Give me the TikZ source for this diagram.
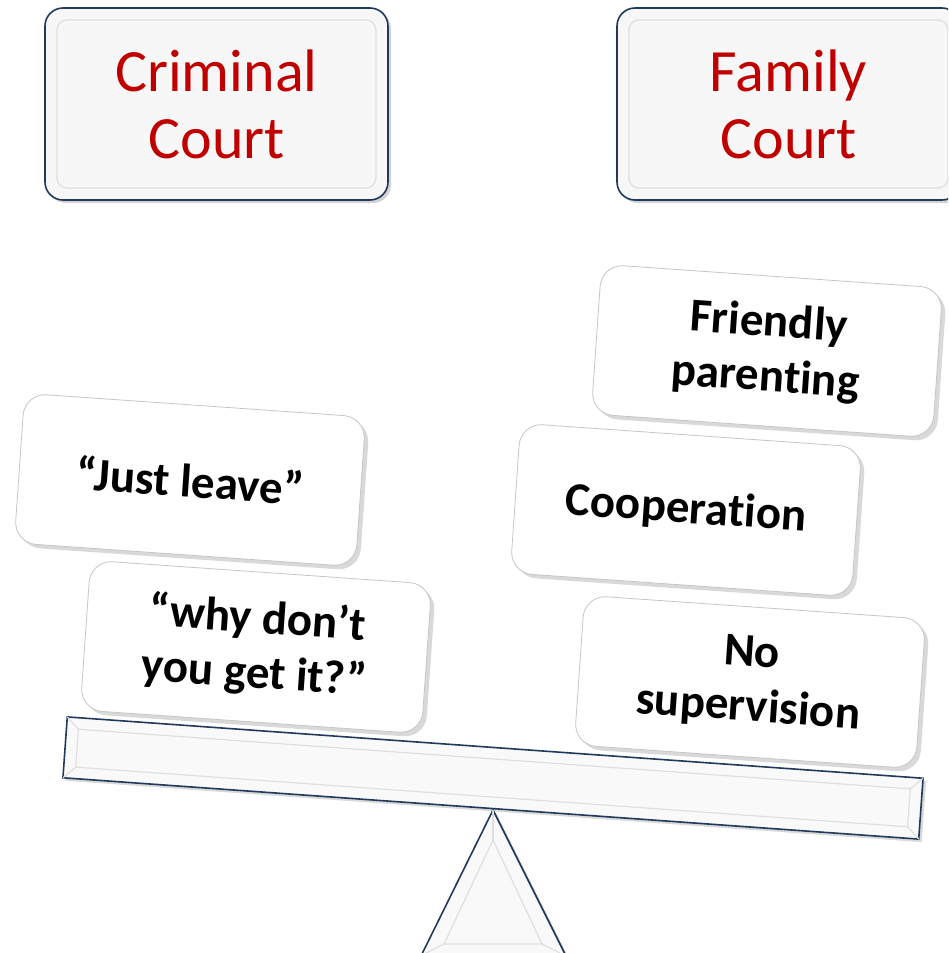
\documentclass[tikz,border=0pt]{standalone}
\usepackage{fontspec}
\setmainfont[Ligatures=NoCommon]{Carlito}
\usetikzlibrary{shadows}
\definecolor{courtred}{HTML}{C00000}
\definecolor{scaleblue}{HTML}{1F3A5A}

\begin{document}
\begin{tikzpicture}[x=1pt,y=-1pt,
		courtbox/.style={draw=scaleblue, line width=1.6pt, fill=gray!6, rounded corners=18pt,
			minimum width=343pt, minimum height=192pt, inner sep=0pt, align=center,
			text=courtred, font=\fontsize{60}{67}\selectfont,
			drop shadow={shadow xshift=3pt, shadow yshift=-3pt, opacity=0.35}},
		weightbox/.style={draw=gray!45, line width=0.8pt, fill=white, rounded corners=22pt,
			minimum width=342pt, minimum height=150pt, inner sep=0pt, align=center, rotate=-4,
			font=\fontsize{47}{55}\selectfont\bfseries,
			drop shadow={shadow xshift=4pt, shadow yshift=-4pt, opacity=0.3}},
		bevel/.style={draw=gray!25, line width=1.2pt}]
			%%%%% START %%%%%
			
			\clip (0, 0) rectangle (948, 953);
			
			\node[courtbox] (crim) at (216.5, 104) {Criminal\\Court};
			\draw[bevel, rounded corners=10pt] (57, 20) rectangle (376, 188);
			
			\node[courtbox] (fam) at (788.5, 104) {Family\\Court};
			\draw[bevel, rounded corners=10pt] (629, 20) rectangle (948, 188);
			
			\coordinate (apex) at (493, 810);
			\coordinate (baseL) at (420, 958);
			\coordinate (baseR) at (567, 958);
			\draw[fill=gray!5, draw=scaleblue, line width=1.6pt,
				drop shadow={shadow xshift=3pt, shadow yshift=-3pt, opacity=0.3}] (apex) -- (baseR) -- (baseL) -- cycle;
			\draw[bevel] (493, 840) -- (542, 944) -- (444, 944) -- cycle;
			\draw[bevel] (apex) -- (493, 840);
			\draw[bevel] (542, 944) -- (560, 953);
			\draw[bevel] (444, 944) -- (426, 953);
			
			\begin{scope}[rotate around={-4.1:(493, 778)}]
				\draw[fill=gray!5, draw=scaleblue, line width=1.6pt,
					drop shadow={shadow xshift=3pt, shadow yshift=-3pt, opacity=0.3}] (64, 747.5) rectangle (922, 808.5);
				\draw[bevel] (76, 759) rectangle (910, 797);
				\draw[bevel] (64, 747.5) -- (76, 759);
				\draw[bevel] (64, 808.5) -- (76, 797);
				\draw[bevel] (922, 747.5) -- (910, 759);
				\draw[bevel] (922, 808.5) -- (910, 797);
			\end{scope}
			
			\node[weightbox] (friendly) at (767, 351) {Friendly\\parenting};
			\node[weightbox] (leave) at (190, 480) {“Just leave”};
			\node[weightbox] (coop) at (686, 510) {Cooperation};
			\node[weightbox] (why) at (256, 647) {“why don’t\\you get it?”};
			\node[weightbox] (nosup) at (750, 682) {No\\supervision};
			
			%%%%% END %%%%%
		\end{tikzpicture}
\end{document}
